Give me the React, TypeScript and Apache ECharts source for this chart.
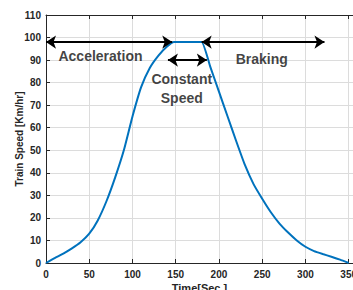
import React, { useEffect, useRef } from "react";
import * as echarts from "echarts";

const time = [0, 10, 20, 30, 40, 50, 60, 70, 80, 90, 100, 110, 120, 130, 140, 148, 160, 170, 180, 190, 200, 210, 220, 230, 240, 250, 260, 270, 280, 290, 300, 310, 320, 330, 340, 350];
const speed = [0, 2.2, 4.2, 6.5, 9.2, 13, 19, 27.5, 38, 50, 65, 78, 86.5, 92, 96, 98, 98, 98, 98, 87, 76, 65, 54, 43.5, 35, 28.5, 22.5, 17.5, 13.5, 10, 7.2, 5.3, 4, 2.8, 1.5, 0];

const xTicks = [0, 50, 100, 150, 200, 250, 300, 350];
const yTicks = [0, 10, 20, 30, 40, 50, 60, 70, 80, 90, 100, 110];

// double-headed arrows: [startTime, startSpeed, endTime, endSpeed]
const arrows = [
  [0, 98, 146, 98],
  [180, 98, 322, 98],
  [141, 90, 186, 90],
];
// annotation texts: [time, speed, text]
const notes: [number, number, string][] = [
  [63, 91.6, "Acceleration"],
  [157, 77.6, "Constant\nSpeed"],
  [249.5, 90.7, "Braking"],
];

const FONT = "'Liberation Sans', Arial, sans-serif";

export default function App() {
  const ref = useRef<HTMLDivElement>(null);
  useEffect(() => {
    const chart = echarts.init(ref.current!, null, { renderer: "svg" });
    const axisCommon = {
      type: "value" as const,
      axisLine: { show: true, lineStyle: { color: "#262626", width: 1 } },
      axisTick: { show: true, inside: true, length: 4, lineStyle: { color: "#262626" } },
    };
    chart.setOption({
      animation: false,
      grid: { left: 46, top: 15, right: 0, bottom: 27, containLabel: false, outerBoundsMode: "none" },
      xAxis: [
        {
          ...axisCommon,
          min: 0,
          max: 355,
          interval: 50,
          name: "Time[Sec.]",
          nameLocation: "middle",
          nameGap: 19,
          nameMoveOverlap: false,
          nameTextStyle: { fontFamily: FONT, fontWeight: "bold", fontSize: 11, color: "#262626" },
          axisLabel: {
            fontFamily: FONT,
            fontWeight: "bold",
            fontSize: 10,
            color: "#262626",
            margin: 6,
            showMaxLabel: false,
            formatter: (v: number) => (xTicks.includes(v) ? String(v) : ""),
          },
          splitLine: { show: true, lineStyle: { color: "#dcdcdc", width: 1 } },
        },
        {
          ...axisCommon,
          position: "top",
          min: 0,
          max: 355,
          interval: 50,
          axisLabel: { show: false },
          splitLine: { show: false },
        },
      ],
      yAxis: {
        ...axisCommon,
        min: 0,
        max: 110,
        interval: 10,
        name: "Train Speed [Km/hr]",
        nameLocation: "middle",
        nameGap: 22,
        nameMoveOverlap: false,
        nameTextStyle: { fontFamily: FONT, fontWeight: "bold", fontSize: 10, color: "#262626" },
        axisLabel: {
          fontFamily: FONT,
          fontWeight: "bold",
          fontSize: 10,
          color: "#262626",
          margin: 5,
          formatter: (v: number) => (yTicks.includes(v) ? String(v) : ""),
        },
        splitLine: { show: true, lineStyle: { color: "#dcdcdc", width: 1 } },
      },
      series: [
        {
          type: "line",
          data: time.map((t, i) => [t, speed[i]]),
          showSymbol: false,
          smooth: 0.15,
          lineStyle: { color: "#0072BD", width: 2 },
          markLine: {
            silent: true,
            symbol: ["arrow", "arrow"],
            symbolSize: 10,
            label: { show: false },
            lineStyle: { color: "#000", width: 2, type: "solid" },
            data: arrows.map((a) => [
              { coord: [a[0], a[1]], symbol: "arrow" },
              { coord: [a[2], a[3]], symbol: "arrow" },
            ]),
          },
        },
        {
          type: "scatter",
          symbolSize: 0,
          silent: true,
          data: notes.map((n) => ({ name: n[2], value: [n[0], n[1]] })),
          label: {
            show: true,
            position: "inside",
            formatter: "{b}",
            fontFamily: FONT,
            fontWeight: "bold",
            fontSize: 14,
            lineHeight: 19,
            color: "#111",
            align: "center",
          },
        },
      ],
    });
    return () => chart.dispose();
  }, []);
  return (
    <div
      ref={ref}
      style={{ position: "fixed", left: 0, top: 0, width: 353, height: 290, background: "#fff" }}
    />
  );
}
